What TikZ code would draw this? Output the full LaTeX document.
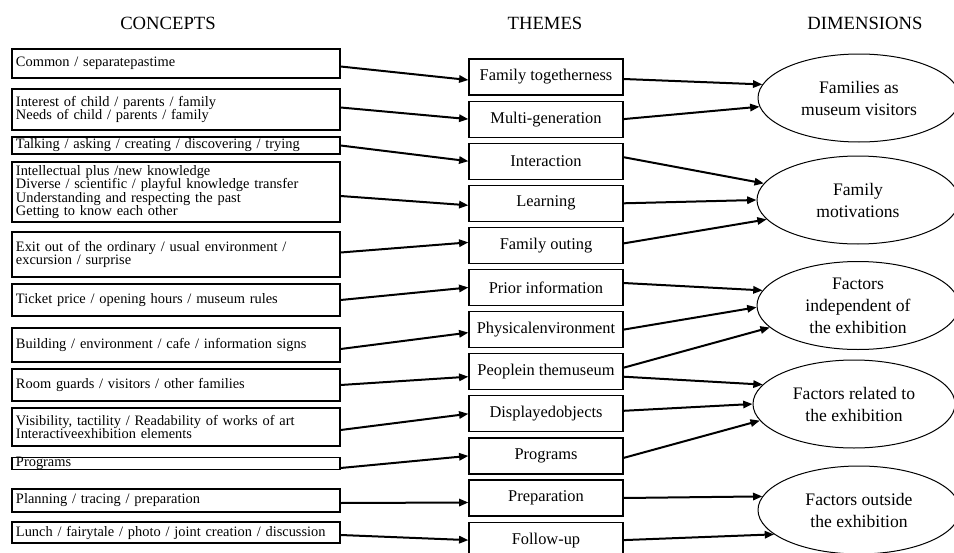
\documentclass[tikz,border=0pt]{standalone}
\usepackage{fontspec}
\setmainfont{Liberation Serif}
\usetikzlibrary{shapes.geometric,arrows.meta,calc}
\begin{document}
\begin{tikzpicture}[x=0.75pt,y=-0.75pt,
 hdr/.style={font=\fontsize{14}{16}\selectfont, inner sep=0pt},
 cbox/.style={draw, line width=0.9pt, rectangle, text width=240pt, inner xsep=3pt, inner ysep=0pt, align=left, font=\fontsize{10.8}{10.4}\selectfont},
 tbox/.style={draw, line width=0.9pt, rectangle, minimum width=115.5pt, minimum height=27pt, inner sep=0pt, font=\fontsize{12.3}{14}\selectfont},
 dim/.style={draw, ellipse, line width=0.75pt, minimum width=151.5pt, minimum height=66pt, inner sep=0pt, align=center, font=\fontsize{13.2}{16.5}\selectfont},
 arr/.style={line width=1.5pt, -{Triangle[length=7pt,width=5.5pt]}}]
\useasboundingbox (0,0) rectangle (954,553);
\fill[white] (0,0) rectangle (954,553);
\clip (0,0) rectangle (954,553);

% headers
\node[hdr] (hc) at (168,23) {CONCEPTS};
\node[hdr] (ht) at (545,23) {THEMES};
\node[hdr] (hd) at (865,23) {DIMENSIONS};

% concepts
\node[cbox, minimum height=21.75pt] (c1) at (176,63.5) {Common / separatepastime};
\node[cbox, minimum height=30.75pt] (c2) at (176,109.5) {Interest of child / parents / family\\Needs of child / parents / family};
\node[cbox, minimum height=12.75pt] (c3) at (176,145.5) {Talking / asking / creating / discovering / trying};
\node[cbox, minimum height=45pt, font=\fontsize{10.8}{10}\selectfont] (c4) at (176,192) {Intellectual plus /new knowledge\\Diverse / scientific / playful knowledge transfer\\Understanding and respecting the past\\Getting to know each other};
\node[cbox, minimum height=33.75pt] (c5) at (176,254.5) {Exit out of the ordinary / usual environment /\\excursion / surprise};
\node[cbox, minimum height=24pt] (c6) at (176,300) {Ticket price / opening hours / museum rules};
\node[cbox, minimum height=25.5pt] (c7) at (176,345) {Building / environment / cafe / information signs};
\node[cbox, minimum height=24pt] (c8) at (176,385) {Room guards / visitors / other families};
\node[cbox, minimum height=28.5pt] (c9) at (176,427) {Visibility, tactility / Readability of works of art\\Interactiveexhibition elements};
\node[cbox, minimum height=8.25pt] (c10) at (176,463.5) {Programs};
\node[cbox, minimum height=17.25pt] (c11) at (176,500.5) {Planning / tracing / preparation};
\node[cbox, minimum height=15.75pt] (c12) at (176,532.5) {Lunch / fairytale / photo / joint creation / discussion};

% themes
\node[tbox] (t1) at (546,77) {Family togetherness};
\node[tbox] (t2) at (546,119.1) {Multi-generation};
\node[tbox] (t3) at (546,161.2) {Interaction};
\node[tbox] (t4) at (546,203.3) {Learning};
\node[tbox] (t5) at (546,245.4) {Family outing};
\node[tbox] (t6) at (546,287.5) {Prior information};
\node[tbox] (t7) at (546,329.6) {Physicalenvironment};
\node[tbox] (t8) at (546,371.7) {Peoplein themuseum};
\node[tbox] (t9) at (546,413.8) {Displayedobjects};
\node[tbox] (t10) at (546,455.9) {Programs};
\node[tbox] (t11) at (546,498) {Preparation};
\node[tbox] (t12) at (546,540.1) {Follow-up};

% dimensions
\node[dim] (e1) at (859,98) {Families as\\museum visitors};
\node[dim] (e2) at (858,200) {Family\\motivations};
\node[dim] (e3) at (858,305.5) {Factors\\independent of\\the exhibition};
\node[dim] (e4) at (854,404) {Factors related to\\the exhibition};
\node[dim] (e5) at (859,510) {Factors outside\\the exhibition};

% concepts -> themes
\draw[arr] ($(c1.east)+(0,3)$) -- ($(t1.west)+(0,3)$);
\draw[arr] ($(c2.east)+(0,-2)$) -- (t2.west);
\draw[arr] (c3.east) -- (t3.west);
\draw[arr] ($(c4.east)+(0,4)$) -- ($(t4.west)+(0,2)$);
\draw[arr] ($(c5.east)+(0,-2)$) -- ($(t5.west)+(0,-3)$);
\draw[arr] (c6.east) -- (t6.west);
\draw[arr] ($(c7.east)+(0,4)$) -- ($(t7.west)+(0,3)$);
\draw[arr] (c8.east) -- ($(t8.west)+(0,5)$);
\draw[arr] ($(c9.east)+(0,3)$) -- (t9.west);
\draw[arr] ($(c10.east)+(0,4.5)$) -- (t10.west);
\draw[arr] ($(c11.east)+(0,2.5)$) -- ($(t11.west)+(0,4.5)$);
\draw[arr] ($(c12.east)+(0,2.5)$) -- (t12.west);

% themes -> dimensions
\draw[arr] ($(t1.east)+(0,2)$) -- (e1.172.4);
\draw[arr] (t2.east) -- (e1.185.9);
\draw[arr] ($(t3.east)+(0,-4)$) -- (e2.170.2);
\draw[arr] (t4.east) -- (e2.180);
\draw[arr] ($(t5.east)+(0,-2)$) -- (e2.192.5);
\draw[arr] ($(t6.east)+(0,-4.5)$) -- (e3.171.3);
\draw[arr] (t7.east) -- (e3.181);
\draw[arr] ($(t8.east)+(0,-4)$) -- (e3.194.3);
\draw[arr] ($(t8.east)+(0,5)$) -- (e4.168.8);
\draw[arr] ($(t9.east)+(0,-3)$) -- (e4.180);
\draw[arr] ($(t10.east)+(0,2)$) -- (e4.190.5);
\draw[arr] (t11.east) -- (e5.172.3);
\draw[arr] (t12.east) -- (e5.196);
\end{tikzpicture}
\end{document}
